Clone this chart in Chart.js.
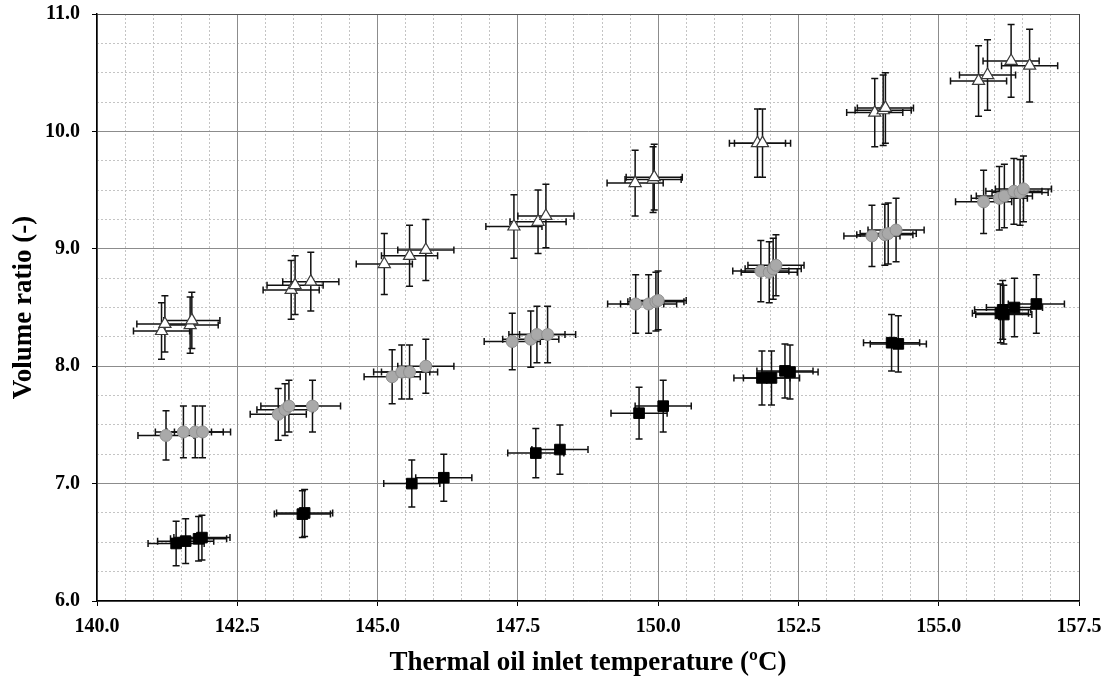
<!DOCTYPE html>
<html>
<head>
<meta charset="utf-8">
<script src="https://cdn.jsdelivr.net/npm/chart.js@4.4.1/dist/chart.umd.min.js"></script>
<style>
  html, body { margin: 0; padding: 0; background: #fff; }
  #wrap { width: 1115px; height: 679px; position: relative; }
</style>
</head>
<body>
<div id="wrap"><canvas id="chart"></canvas></div>
<script>
// open triangles
const triX = [141.15, 141.21, 141.66, 141.69, 143.46, 143.53, 143.81, 145.12, 145.57, 145.86, 147.43, 147.86, 148.00,
  149.59, 149.91, 149.93, 151.77, 151.86, 153.86, 154.01, 154.05, 155.71, 155.87, 156.29, 156.62];
const triY = [8.30, 8.36, 8.35, 8.39, 8.65, 8.69, 8.72, 8.87, 8.94, 8.99, 9.19, 9.23, 9.28,
  9.56, 9.59, 9.61, 9.90, 9.90, 10.16, 10.18, 10.20, 10.43, 10.48, 10.60, 10.56];
const triErr = [0.24, 0.24, 0.24, 0.24, 0.25, 0.25, 0.25, 0.26, 0.26, 0.26, 0.27, 0.27, 0.27,
  0.28, 0.28, 0.28, 0.29, 0.29, 0.29, 0.30, 0.30, 0.30, 0.30, 0.31, 0.31];

// grey circles
const circX = [141.23, 141.54, 141.75, 141.88, 143.23, 143.35, 143.42, 143.84, 145.26, 145.43, 145.57, 145.86,
  147.40, 147.73, 147.84, 148.03, 149.60, 149.83, 149.96, 150.00, 151.83, 151.98, 152.05, 152.10,
  153.81, 154.04, 154.10, 154.24, 155.80, 156.08, 156.17, 156.34, 156.45, 156.51];
const circY = [7.41, 7.44, 7.44, 7.44, 7.59, 7.63, 7.66, 7.66, 7.91, 7.95, 7.95, 8.00,
  8.21, 8.23, 8.27, 8.27, 8.53, 8.53, 8.55, 8.56, 8.81, 8.80, 8.83, 8.86,
  9.11, 9.12, 9.13, 9.16, 9.40, 9.43, 9.45, 9.49, 9.48, 9.51];
const circErr = [0.21, 0.22, 0.22, 0.22, 0.22, 0.22, 0.22, 0.22, 0.23, 0.23, 0.23, 0.23,
  0.24, 0.24, 0.24, 0.24, 0.25, 0.25, 0.25, 0.25, 0.26, 0.26, 0.26, 0.26,
  0.26, 0.26, 0.26, 0.27, 0.27, 0.27, 0.27, 0.28, 0.28, 0.28];

// black squares
const sqX = [141.41, 141.58, 141.81, 141.87, 143.66, 143.70, 145.61, 146.18, 147.82, 148.25, 149.66, 150.09,
  151.85, 152.02, 152.26, 152.35, 154.16, 154.28, 156.10, 156.14, 156.16, 156.35, 156.74];
const sqY = [6.49, 6.51, 6.53, 6.54, 6.74, 6.75, 7.00, 7.05, 7.26, 7.29, 7.60, 7.66,
  7.90, 7.90, 7.96, 7.95, 8.20, 8.19, 8.45, 8.48, 8.44, 8.50, 8.53];
const sqErr = [0.19, 0.19, 0.19, 0.19, 0.20, 0.20, 0.20, 0.20, 0.21, 0.21, 0.22, 0.22,
  0.23, 0.23, 0.23, 0.23, 0.24, 0.24, 0.25, 0.25, 0.25, 0.25, 0.25];

const tempErr = 0.5; // ±0.5 ºC on every point

const toPoints = (xs, ys) => xs.map((x, i) => ({ x: x, y: ys[i] }));

// draws the x and y error bars under the markers
const errorBars = {
  id: 'errorBars',
  beforeDatasetsDraw(chart) {
    const { ctx } = chart;
    const xs = chart.scales.x, ys = chart.scales.y;
    const cap = 3.5;
    ctx.save();
    ctx.strokeStyle = '#111';
    ctx.lineWidth = 1.5;
    chart.data.datasets.forEach(ds => {
      ds.data.forEach((p, i) => {
        const px = xs.getPixelForValue(p.x);
        const py = ys.getPixelForValue(p.y);
        const x0 = xs.getPixelForValue(p.x - tempErr);
        const x1 = xs.getPixelForValue(p.x + tempErr);
        const y0 = ys.getPixelForValue(p.y - ds.yErr[i]);
        const y1 = ys.getPixelForValue(p.y + ds.yErr[i]);
        ctx.beginPath();
        ctx.moveTo(x0, py); ctx.lineTo(x1, py);
        ctx.moveTo(x0, py - cap); ctx.lineTo(x0, py + cap);
        ctx.moveTo(x1, py - cap); ctx.lineTo(x1, py + cap);
        ctx.moveTo(px, y0); ctx.lineTo(px, y1);
        ctx.moveTo(px - cap, y0); ctx.lineTo(px + cap, y0);
        ctx.moveTo(px - cap, y1); ctx.lineTo(px + cap, y1);
        ctx.stroke();
      });
    });
    ctx.restore();
  }
};

const serif = 'Liberation Serif, Times New Roman, serif';

new Chart(document.getElementById('chart'), {
  type: 'scatter',
  data: {
    datasets: [
      {
        label: 'triangles',
        data: toPoints(triX, triY),
        yErr: triErr,
        pointStyle: 'triangle',
        pointRadius: 7,
        backgroundColor: '#ffffff',
        borderColor: '#3a3a3a',
        borderWidth: 1.2
      },
      {
        label: 'circles',
        data: toPoints(circX, circY),
        yErr: circErr,
        pointStyle: 'circle',
        pointRadius: 6,
        backgroundColor: '#a9a9a9',
        borderColor: '#8f8f8f',
        borderWidth: 1
      },
      {
        label: 'squares',
        data: toPoints(sqX, sqY),
        yErr: sqErr,
        pointStyle: 'rect',
        pointRadius: 7.5,
        backgroundColor: '#000000',
        borderColor: '#000000',
        borderWidth: 1
      }
    ]
  },
  options: {
    responsive: true,
    maintainAspectRatio: false,
    animation: false,
    layout: { padding: { top: 14, right: 36, bottom: 0, left: 0 } },
    plugins: {
      legend: { display: false },
      tooltip: { enabled: false }
    },
    scales: {
      x: {
        type: 'linear',
        position: 'bottom',
        min: 140,
        max: 157.5,
        ticks: {
          stepSize: 2.5,
          callback: v => v.toFixed(1),
          font: { family: serif, size: 20, weight: 'bold' },
          color: '#000',
          padding: 9,
          maxRotation: 0,
          autoSkip: false
        },
        grid: {
          color: c => (c.tick && c.tick.value === 157.5 ? '#444' : '#8c8c8c'),
          lineWidth: 1, tickColor: '#000', tickLength: 5, z: -1
        },
        border: { color: '#000', width: 1.5 },
        title: {
          display: true,
          text: 'Thermal oil inlet temperature (ºC)',
          font: { family: serif, size: 27, weight: 'bold' },
          color: '#000',
          padding: { top: 0, bottom: 0 }
        },
        afterFit: s => { s.height = 78; s.paddingLeft = 0; s.paddingRight = 0; }
      },
      xMinor: {
        type: 'linear',
        position: 'bottom',
        min: 140,
        max: 157.5,
        ticks: { stepSize: 0.5, display: false },
        grid: { color: '#c4c4c4', lineWidth: 1, drawTicks: false, z: -2 },
        border: { display: false, dash: [2, 2] },
        afterFit: s => { s.height = 0; }
      },
      y: {
        type: 'linear',
        position: 'left',
        min: 6,
        max: 11,
        ticks: {
          stepSize: 1,
          callback: v => v.toFixed(1),
          font: { family: serif, size: 20, weight: 'bold' },
          color: '#000',
          padding: 12
        },
        grid: {
          color: c => (c.tick && c.tick.value === 11 ? '#555' : '#8c8c8c'),
          lineWidth: 1, tickColor: '#000', tickLength: 5, z: -1
        },
        border: { color: '#000', width: 1.5 },
        title: {
          display: true,
          text: 'Volume ratio (-)',
          font: { family: serif, size: 27, weight: 'bold' },
          color: '#000',
          padding: { top: 8, bottom: 0 }
        },
        afterFit: s => { s.width = 97; s.paddingTop = 0; s.paddingBottom = 0; }
      },
      yMinor: {
        type: 'linear',
        position: 'left',
        min: 6,
        max: 11,
        ticks: { stepSize: 0.25, display: false },
        grid: { color: '#c4c4c4', lineWidth: 1, drawTicks: false, z: -2 },
        border: { display: false, dash: [2, 2] },
        afterFit: s => { s.width = 0; }
      }
    }
  },
  plugins: [errorBars]
});
</script>
</body>
</html>
